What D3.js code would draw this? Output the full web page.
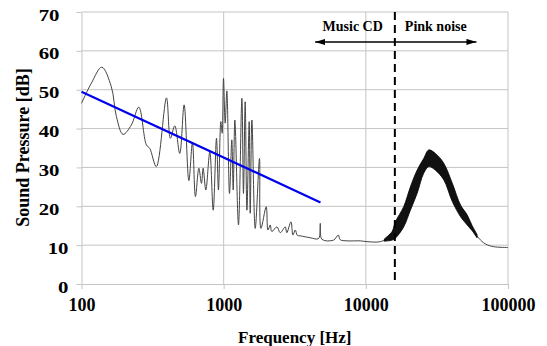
<!DOCTYPE html>
<html>
<head>
<meta charset="utf-8">
<script src="https://cdn.jsdelivr.net/npm/d3@7"></script>
<style>
  body { margin: 0; background: #fff; }
  svg text { font-family: "Liberation Serif", "DejaVu Serif", serif !important; font-weight: bold; }
</style>
</head>
<body>
<svg id="chart" width="547" height="346"></svg>
<script>
const freqHz = [100, 117, 139, 162, 176, 196, 224, 253, 286, 302, 336, 396, 422, 453, 491, 527, 569, 603, 633,
  669, 698, 717, 749, 799, 844, 890, 919, 955, 976, 997, 1025, 1053, 1099, 1141, 1167, 1199, 1271, 1343, 1378,
  1417, 1457, 1512, 1537, 1580, 1667, 1787, 1828, 1992, 2048, 2126, 2180, 2370, 2500, 2711, 2780, 2974, 3070,
  3188, 3300, 3457, 4065, 4652, 4782, 4910, 5933, 6400, 6600, 7372, 9144, 10190, 12650, 14880, 16130, 18460,
  20580, 22940, 25530, 27690, 30860, 35320, 39360, 43860, 47600, 51600, 55970, 62300, 69420, 79430, 100000];
const soundDb = [46.5, 51.6, 55.8, 50.8, 43.1, 38.5, 40.9, 45.5, 35.8, 34.9, 30.2, 47.9, 37.5, 40.7, 33.6, 46.1,
  26.6, 36.4, 22.5, 29.8, 25.9, 29.8, 24.2, 34.0, 19.0, 37.5, 24.2, 41.8, 38.8, 52.9, 41.4, 49.7, 23.3, 37.1,
  24.2, 42.2, 15.2, 47.8, 23.3, 46.9, 19.0, 41.8, 18.2, 42.2, 14.3, 32.3, 14.3, 19.9, 13.9, 15.2, 13.5, 14.7,
  13.2, 14.7, 13.2, 16.0, 12.6, 13.9, 12.5, 12.4, 11.9, 11.7, 15.6, 11.5, 11.3, 12.6, 11.4, 11.1, 11.1, 10.9,
  10.9, 12.2, 13.9, 17.3, 22.5, 28.5, 31.5, 33.2, 32.3, 29.8, 25.5, 21.6, 18.6, 16.5, 14.3, 11.8, 10.3, 9.6, 9.4];

// spread of the pink noise trace (min / max)
const noiseFreq = [13500, 15290, 16130, 18460, 20580, 22940, 25530, 27690, 30860, 35320, 40590, 46400, 51600, 55970, 60500];
const noiseLow  = [11.0, 11.3, 11.8, 14.7, 19.0, 23.3, 28.5, 30.2, 29.3, 26.8, 21.2, 17.3, 15.2, 13.7, 11.9];
const noiseHigh = [11.6, 13.5, 16.0, 19.9, 25.0, 29.3, 32.3, 34.5, 33.6, 31.1, 25.9, 20.3, 17.8, 15.0, 12.8];

// blue trend line
const trendFreq = [100, 4800];
const trendDb = [49.5, 21.0];

const xTicks = [100, 1000, 10000, 100000];
const yTicks = [0, 10, 20, 30, 40, 50, 60, 70];

const dividerHz = 16000;
const arrowHz = [4400, 60000];
const arrowDb = 62.3;

const svg = d3.select('#chart');
const mLeft = 81.5, mRight = 508, mTop = 12, mBottom = 284;

const x = d3.scaleLog().domain([100, 100000]).range([mLeft, mRight]);
const y = d3.scaleLinear().domain([0, 70]).range([mBottom, mTop]);
const gridColor = '#c4c4c4';

// grid
svg.append('g').selectAll('line').data(yTicks.slice(1)).join('line')
  .attr('x1', mLeft).attr('x2', mRight)
  .attr('y1', d => y(d)).attr('y2', d => y(d))
  .attr('stroke', gridColor);
svg.append('g').selectAll('line').data(xTicks.slice(1)).join('line')
  .attr('x1', d => x(d)).attr('x2', d => x(d))
  .attr('y1', mTop).attr('y2', mBottom)
  .attr('stroke', gridColor);

// axes
const xAxis = svg.append('g')
  .attr('transform', `translate(0,${mBottom})`)
  .call(d3.axisBottom(x).tickValues(xTicks).tickFormat(d3.format('d')).tickSize(5).tickSizeOuter(0))
  .attr('font-family', null);
xAxis.selectAll('path, line').attr('stroke', gridColor);
xAxis.selectAll('text').attr('font-size', 18).attr('fill', '#000')
  .attr('y', 26.7).attr('dy', null);

const yAxis = svg.append('g')
  .attr('transform', `translate(${mLeft},0)`)
  .call(d3.axisLeft(y).tickValues(yTicks).tickSize(5).tickSizeOuter(0))
  .attr('font-family', null);
yAxis.selectAll('path, line').attr('stroke', gridColor);
yAxis.selectAll('text').attr('font-size', 16).attr('fill', '#000')
  .attr('x', d => (d < 20 ? -13 : -22) / 1.3)
  .attr('dy', '0.5em')
  .attr('transform', 'scale(1.3,1)');

// curve
const line = d3.line()
  .x((d, i) => x(freqHz[i]))
  .y(d => y(d))
  .curve(d3.curveCatmullRom.alpha(0.5));
svg.append('path')
  .attr('d', line(soundDb))
  .attr('fill', 'none')
  .attr('stroke', '#444')
  .attr('stroke-width', 1);

const band = d3.area()
  .x((d, i) => x(noiseFreq[i]))
  .y0((d, i) => y(noiseLow[i]))
  .y1((d, i) => y(noiseHigh[i]))
  .curve(d3.curveCatmullRom.alpha(0.5));
svg.append('path')
  .attr('d', band(noiseFreq))
  .attr('fill', '#111')
  .attr('stroke', '#000')
  .attr('stroke-width', 0.8);

// trend
svg.append('path')
  .attr('d', d3.line().x((d, i) => x(trendFreq[i])).y(d => y(d))(trendDb))
  .attr('stroke', '#0000ee')
  .attr('stroke-width', 2.2)
  .attr('fill', 'none');

// divider
svg.append('line')
  .attr('x1', x(dividerHz)).attr('x2', x(dividerHz))
  .attr('y1', mTop).attr('y2', mBottom)
  .attr('stroke', '#000').attr('stroke-width', 2)
  .attr('stroke-dasharray', '8,5');

// arrows
const defs = svg.append('defs');
defs.append('marker').attr('id', 'head')
  .attr('viewBox', '0 0 10 6').attr('refX', 10).attr('refY', 3)
  .attr('markerWidth', 10).attr('markerHeight', 6)
  .attr('markerUnits', 'userSpaceOnUse').attr('orient', 'auto-start-reverse')
  .append('path').attr('d', 'M0,0L10,3L0,6Z').attr('fill', '#000');
svg.append('line')
  .attr('x1', x(arrowHz[0])).attr('x2', x(arrowHz[1]))
  .attr('y1', y(arrowDb)).attr('y2', y(arrowDb))
  .attr('stroke', '#000').attr('stroke-width', 1.5)
  .attr('marker-start', 'url(#head)').attr('marker-end', 'url(#head)');

svg.append('text')
  .attr('x', x(dividerHz) - 12).attr('y', 30.5)
  .attr('text-anchor', 'end').attr('font-size', 14)
  .text('Music CD');
svg.append('text')
  .attr('x', x(dividerHz) + 10).attr('y', 30.5)
  .attr('font-size', 14)
  .text('Pink noise');

// titles
svg.append('text')
  .attr('x', (mLeft + mRight) / 2).attr('y', 343)
  .attr('text-anchor', 'middle').attr('font-size', 17)
  .text('Frequency [Hz]');
svg.append('text')
  .attr('transform', 'translate(29,147.5) rotate(-90)')
  .attr('text-anchor', 'middle').attr('font-size', 18)
  .text('Sound Pressure [dB]');
</script>
</body>
</html>
